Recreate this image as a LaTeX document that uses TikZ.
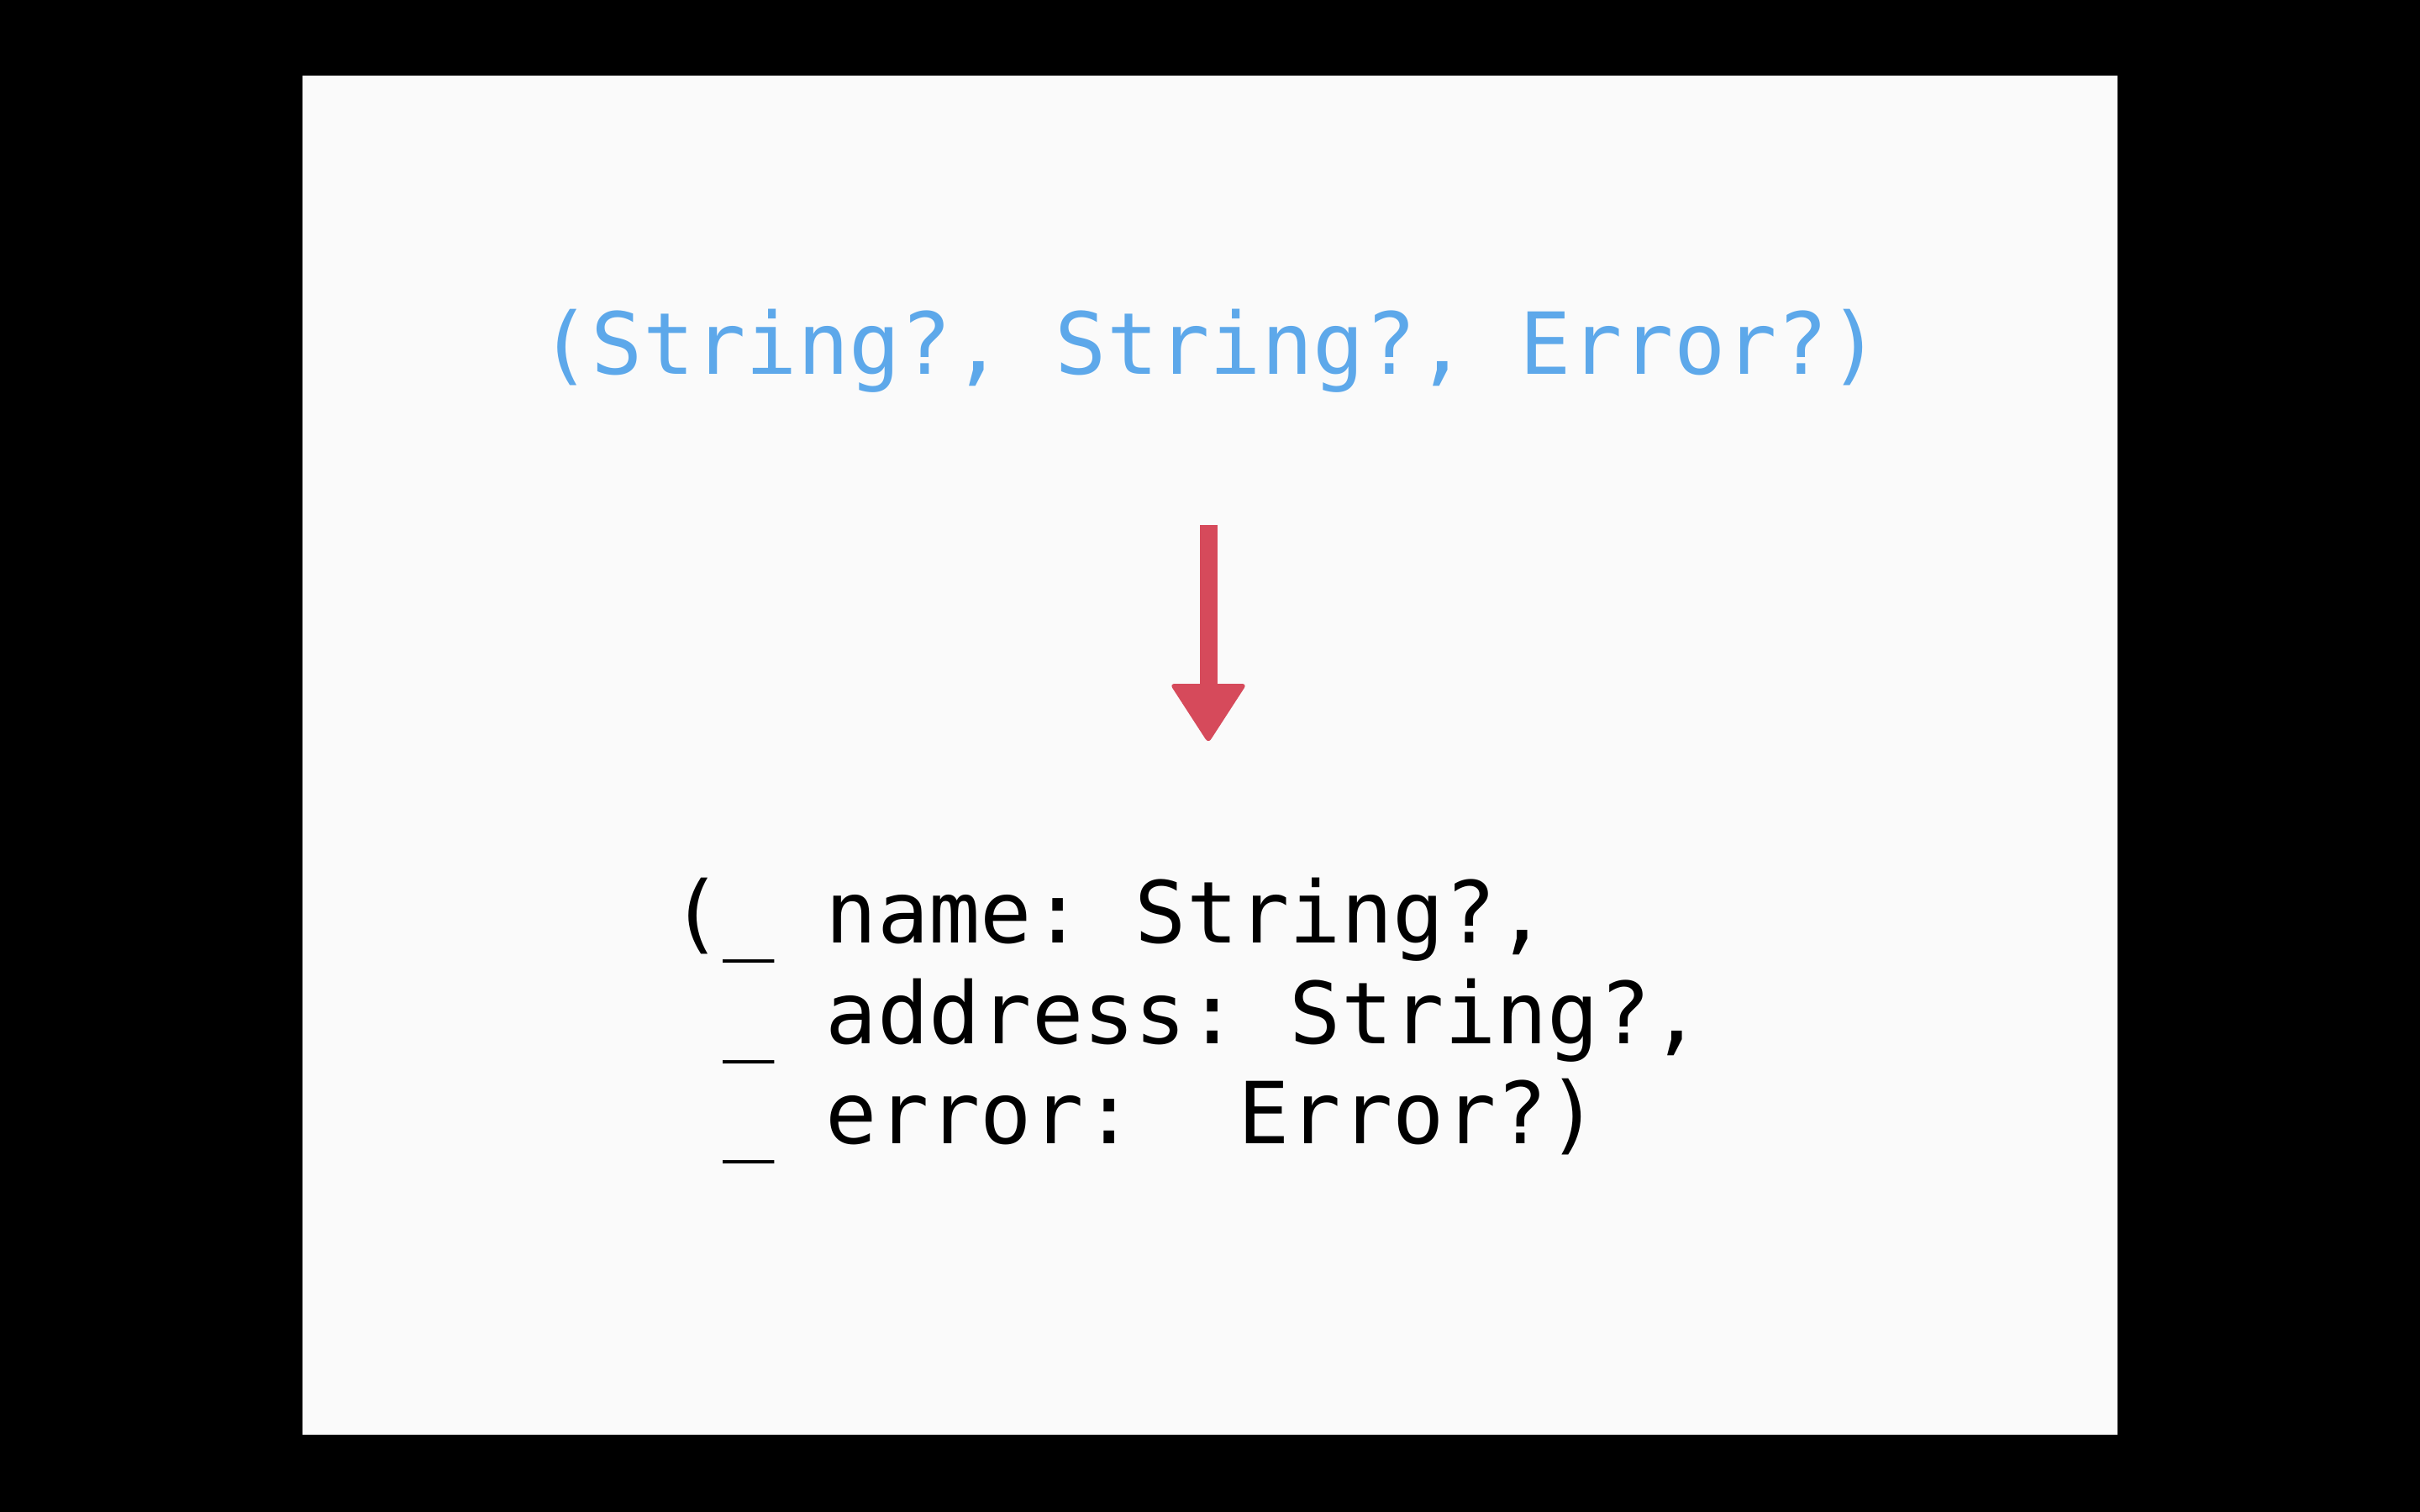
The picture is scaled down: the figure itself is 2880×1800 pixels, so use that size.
\documentclass[tikz,border=0pt]{standalone}
\usepackage{fontspec}
\newfontfamily\codefont{DejaVu Sans Mono}
\definecolor{slidebg}{HTML}{FAFAFA}
\definecolor{typeblue}{HTML}{5DA8EA}
\definecolor{crayonred}{HTML}{D64A5B}
\tikzset{
  codetext/.style={font=\codefont\fontsize{29}{35}\selectfont, inner sep=0pt},
}
\begin{document}
\begin{tikzpicture}[x=0.1mm,y=-0.1mm]
\useasboundingbox (0,0) rectangle (2880,1800);
\fill[black] (0,0) rectangle (2880,1800);
\fill[slidebg] (360,90) rectangle (2520,1708);
\node[codetext, text=typeblue, anchor=base] (tuple) at (1440,446) {(String?,~String?,~Error?)};
\node[codetext, anchor=base west] (line1) at (798,1122) {(\_~name:~String?,};
\node[codetext, anchor=base west] (line2) at (798,1242) {~\_~address:~String?,};
\node[codetext, anchor=base west] (line3) at (798,1361) {~\_~error:~~Error?)};
\coordinate (arrtop) at (1438,625);
\coordinate (arrtip) at (1438,885);
\draw[crayonred, line width=2.1mm] (arrtop) -- ([yshift=6mm]arrtip);
\fill[crayonred, rounded corners=0.6mm] ([xshift=-4.6mm,yshift=7.1mm]arrtip) -- ([xshift=4.6mm,yshift=7.1mm]arrtip) -- (arrtip) -- cycle;
\end{tikzpicture}
\end{document}
